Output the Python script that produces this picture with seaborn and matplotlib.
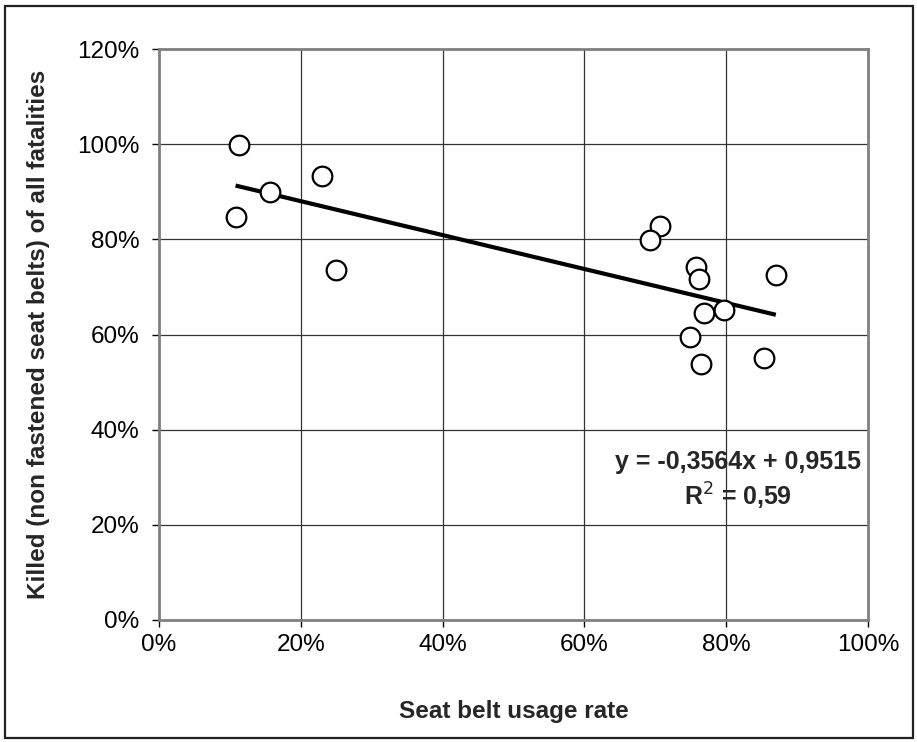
import matplotlib
matplotlib.use("Agg")
import matplotlib.pyplot as plt
import seaborn as sns
import pandas as pd
import numpy as np
from matplotlib.patches import Rectangle
from matplotlib.ticker import PercentFormatter

# data (fractions)
usage_rate = [0.113, 0.157, 0.108, 0.230, 0.250,
              0.706, 0.692, 0.758, 0.761, 0.870,
              0.769, 0.797, 0.749, 0.764, 0.854]
killed_share = [0.999, 0.899, 0.846, 0.934, 0.736,
                0.828, 0.798, 0.742, 0.716, 0.726,
                0.646, 0.651, 0.594, 0.539, 0.551]
trend_slope = -0.3564
trend_intercept = 0.9515
r_squared = "0,59"
x_ticks = [0.0, 0.2, 0.4, 0.6, 0.8, 1.0]
y_ticks = [0.0, 0.2, 0.4, 0.6, 0.8, 1.0, 1.2]

df = pd.DataFrame({"usage": usage_rate, "killed": killed_share})

sns.set_theme(style="white")
plt.rcParams["font.family"] = ["Liberation Sans", "DejaVu Sans"]

W, H = 917, 742
fig = plt.figure(figsize=(W / 100, H / 100), dpi=100)
fig.subplots_adjust(left=159 / W, right=868 / W, top=1 - 49 / H, bottom=1 - 620 / H)
ax = fig.add_subplot(111)

# outer chart frame
fig.patches.append(Rectangle((5 / W, 4 / H), (W - 9) / W, (H - 10) / H,
                             transform=fig.transFigure, fill=False,
                             edgecolor="#222222", linewidth=1.6, zorder=0))

# trend line
xs = np.array([min(usage_rate), max(usage_rate)])
ax.plot(xs, trend_slope * xs + trend_intercept, color="black", lw=3.0, zorder=3,
        solid_capstyle="butt")

sns.scatterplot(data=df, x="usage", y="killed", ax=ax, s=200, marker="o",
                facecolor="white", edgecolor="black", linewidth=1.6, zorder=4)

ax.set_xlim(0, 1)
ax.set_ylim(0, 1.2)
ax.set_xticks(x_ticks)
ax.set_yticks(y_ticks)
ax.xaxis.set_major_formatter(PercentFormatter(1.0, decimals=0))
ax.yaxis.set_major_formatter(PercentFormatter(1.0, decimals=0))
ax.tick_params(axis="both", labelsize=17.5, colors="black", direction="out",
               length=5, width=1, bottom=True, left=True)
ax.tick_params(axis="y", pad=9)
ax.tick_params(axis="x", pad=5)
for lab in ax.get_xticklabels() + ax.get_yticklabels():
    lab.set_color("black")

ax.grid(True, color="#333333", linewidth=0.9)
ax.set_axisbelow(True)
for sp in ax.spines.values():
    sp.set_color("#808080")
    sp.set_linewidth(2)
    sp.set_visible(True)

ax.set_xlabel("Seat belt usage rate", fontsize=17.5, fontweight="bold", labelpad=0)
ax.xaxis.set_label_coords(0.5, -(700 - 620) / (620 - 49))
ax.set_ylabel("Killed (non fastened seat belts) of all fatalities", fontsize=17.5,
              fontweight="bold")
ax.yaxis.set_label_coords(-(159 - 50) / (868 - 159), 0.5)

ax.text(0.817, 0.333, "y = -0,3564x + 0,9515", fontsize=18, fontweight="bold",
        ha="center", va="center", zorder=5)
ax.text(0.817, 0.259, "R$^2$ = " + r_squared, fontsize=18, fontweight="bold",
        ha="center", va="center", zorder=5)

fig.savefig("out.png", dpi=100, facecolor="white")
